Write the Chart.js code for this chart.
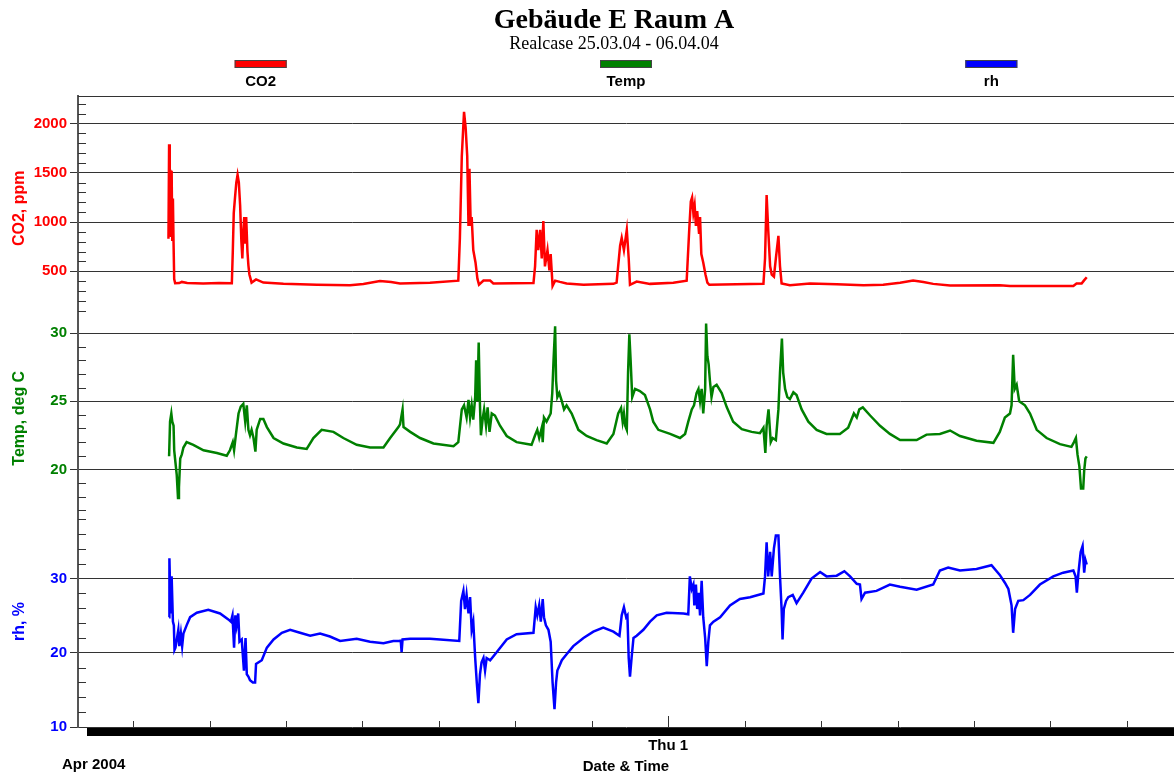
<!DOCTYPE html>
<html>
<head>
<meta charset="utf-8">
<title>Gebäude E Raum A</title>
<script src="https://cdn.jsdelivr.net/npm/chart.js@4.4.1/dist/chart.umd.min.js"></script>
<style>
  html, body { margin: 0; padding: 0; background: #fff; }
  #wrap { width: 1174px; height: 776px; position: relative; }
</style>
</head>
<body>
<div id="wrap"><canvas id="chart"></canvas></div>
<script>
// time axis: hours since 25.03.04 00:00
const co2Hours = [11.1,11.3,11.5,11.7,11.9,12.1,12.3,12.5,12.7,12.9,13.2,14.5,15.3,17.0,22.0,27.0,31.0,
  31.3,31.6,32.0,32.4,32.8,33.2,33.6,34.0,34.3,34.6,34.9,35.2,35.5,35.9,36.2,36.5,37.2,38.6,40.9,47.2,
  57.7,68.1,72.3,77.5,81.0,83.8,
  93.2,102.1,102.6,103.2,103.9,104.4,104.9,105.3,105.6,106.0,106.3,106.8,107.5,108.1,108.6,110.0,112.1,113.1,125.7,126.2,
  126.7,127.2,127.8,128.3,128.8,129.3,130.1,130.7,131.1,131.7,132.5,134.0,136.1,141.4,150.8,151.8,152.9,153.4,154.1,155.0,
  155.6,156.0,158.1,162.3,
  169.6,173.8,174.6,175.1,175.5,175.9,176.3,176.7,177.1,177.7,178.0,178.4,179.0,179.7,180.3,180.9,197.9,198.4,198.9,199.4,
  200.0,200.5,201.2,201.8,202.6,203.1,203.6,206.2,212.5,220.9,229.3,235.5,240.8,
  244.9,248.1,251.2,256.5,272.1,275.3,295.2,296.2,297.8,298.5,299.4];
const co2Ppm = [830,1790,960,1530,860,1520,820,1240,790,420,378,380,392,382,377,380,379,
  700,1090,1250,1400,1480,1400,1170,800,630,900,1050,780,1050,700,560,470,385,417,385,372,
  363,359,370,400,392,376,
  384,405,840,1670,2120,1960,1670,960,1540,960,1050,715,590,425,363,405,405,376,380,550,
  920,715,920,630,1010,550,715,510,675,351,405,392,376,363,372,384,760,840,715,920,
  630,363,396,372,
  384,405,920,1210,1250,1090,1170,960,1110,880,1050,675,590,467,384,363,372,630,1275,920,
  550,467,446,630,860,550,376,359,376,368,359,363,384,
  405,392,372,355,359,351,351,376,376,405,440];

const tempHours = [11.3,11.6,12.0,12.3,12.7,12.9,13.3,13.7,14.1,14.4,14.8,15.3,15.8,16.8,18.9,22.1,26.3,29.4,30.4,31.3,
  31.7,32.3,33.1,33.8,34.6,35.2,35.7,36.2,36.7,37.2,37.8,38.4,38.8,39.9,40.9,42.0,44.1,47.2,51.4,54.5,
  56.6,59.2,62.9,66.0,70.2,74.4,78.6,80.7,83.3,
  83.8,84.6,84.9,87.0,90.1,94.3,100.6,102.1,103.2,103.9,104.7,105.3,105.8,106.3,106.8,107.4,107.7,108.1,108.5,108.9,
  109.2,109.8,110.2,110.8,111.3,111.9,112.6,113.6,115.2,117.3,120.4,125.1,126.2,126.9,127.5,128.3,128.6,129.0,129.8,131.1,
  131.6,132.0,132.5,132.8,133.2,133.8,134.6,135.3,136.1,137.7,139.8,142.4,145.5,148.7,150.8,152.3,153.2,153.7,154.1,154.5,
  155.0,155.4,155.8,156.2,156.7,157.6,159.1,160.7,162.3,
  163.3,164.9,168.6,171.7,173.3,174.3,175.4,176.1,176.9,177.5,178.0,178.5,179.0,179.6,179.9,180.3,180.7,181.1,181.6,182.2,
  183.2,184.8,186.4,188.4,191.1,194.2,196.8,197.9,198.5,198.9,199.5,200.2,200.8,201.8,202.6,203.1,203.7,204.1,204.7,205.4,
  206.2,207.3,208.3,209.9,212.0,214.6,217.7,221.9,224.5,226.3,227.2,228.0,229.1,231.4,234.5,237.6,240.8,
  246.0,249.1,253.3,256.5,259.6,264.8,270.1,272.1,273.7,275.3,275.8,276.3,276.8,277.4,278.2,280.0,281.6,283.7,286.8,291.0,
  294.6,295.4,296.0,296.5,297.1,297.6,298.3,298.6,299.0,299.4];
const tempDegC = [20.96,23.5,24.1,23.5,23.2,21.4,20.5,19.6,17.9,18.7,20.8,21.1,21.6,22.0,21.8,21.4,21.2,21.0,21.4,22.0,
  21.4,22.6,24.1,24.6,24.8,23.5,24.7,22.9,22.5,22.9,22.3,21.3,22.9,23.7,23.7,23.1,22.3,21.9,21.6,21.5,
  22.3,22.9,22.75,22.3,21.8,21.6,21.6,22.3,23.1,
  23.3,24.4,23.1,22.75,22.3,21.9,21.7,22.0,24.4,24.7,23.8,25.1,23.8,24.7,23.65,25.3,28.0,25.0,29.3,24.7,
  22.5,23.8,24.4,23.2,24.55,22.75,24.1,23.95,23.2,22.45,22.0,21.8,22.5,22.9,22.3,23.05,22.0,23.8,23.5,24.1,
  25.6,28.0,30.5,26.5,25.3,25.6,25.0,24.4,24.7,24.1,22.9,22.45,22.15,21.9,22.6,24.1,24.5,23.5,24.1,23.2,
  22.9,27.1,29.9,28.0,25.3,25.9,25.75,25.45,24.4,
  23.5,22.9,22.6,22.3,22.6,23.5,24.4,24.7,25.6,25.9,25.0,25.9,24.1,25.9,30.7,28.3,27.7,26.5,25.3,26.05,
  26.2,25.6,24.55,23.5,22.95,22.75,22.65,23.05,21.2,23.2,24.4,22.0,22.3,22.15,24.4,27.1,29.6,27.1,25.9,25.3,
  25.15,25.65,25.45,24.4,23.5,22.9,22.6,22.6,23.05,24.1,23.8,24.4,24.55,23.95,23.2,22.6,22.15,
  22.15,22.55,22.6,22.85,22.45,22.1,21.95,22.75,23.8,24.1,24.7,28.4,25.9,26.2,25.0,24.7,24.1,22.9,22.3,21.85,
  21.65,22.0,22.3,21.1,20.2,18.6,18.6,19.9,20.8,20.96];

const rhHours = [11.3,11.4,11.8,12.1,12.5,12.8,13.0,13.3,14.2,14.5,15.0,15.4,15.8,16.8,17.9,20.0,23.6,27.3,29.9,30.7,
  31.2,31.7,32.1,32.5,33.0,33.4,34.1,34.8,35.3,35.7,36.2,36.7,37.6,38.3,38.6,39.3,40.4,42.0,44.1,46.7,
  49.3,52.4,55.6,58.7,61.8,65.0,70.2,74.4,78.6,81.7,83.8,
  84.0,84.3,84.6,87.0,93.2,96.4,102.4,103.0,103.7,104.2,104.7,105.3,105.8,106.3,106.8,107.4,107.9,108.4,108.9,109.4,
  110.0,110.5,111.0,112.1,114.2,117.3,120.4,125.7,126.4,126.9,127.5,128.0,128.6,129.0,129.6,130.4,131.1,131.7,132.3,132.8,
  133.2,133.8,134.6,136.1,138.2,141.4,144.5,147.6,150.8,152.7,153.4,154.1,154.8,155.2,155.6,156.0,156.5,157.1,158.1,160.2,
  162.3,
  164.4,167.5,172.8,174.3,174.8,175.4,175.9,176.2,176.7,177.1,177.6,178.0,178.5,179.0,179.6,180.1,180.6,181.1,182.2,184.3,
  187.4,190.5,193.7,197.9,198.4,198.9,199.4,200.0,200.5,201.2,201.8,202.6,203.1,203.6,203.9,204.3,205.0,205.7,207.1,208.3,
  210.4,213.0,215.7,217.7,220.9,223.3,225.1,227.2,228.2,228.7,229.8,233.4,237.6,240.8,
  246.0,251.2,253.3,255.9,259.6,264.8,269.5,272.1,273.7,274.8,275.8,276.3,276.9,277.9,279.5,281.6,284.7,288.9,292.0,295.2,
  295.9,296.3,296.8,297.5,298.1,298.6,299.0,299.4];
const rhPct = [24.8,32.75,25.3,30.3,24.2,23.7,20.4,20.7,23.1,20.9,22.6,20.9,22.6,23.7,24.8,25.4,25.8,25.3,24.5,24.2,
  25.05,20.7,25.05,23.7,25.3,21.5,21.8,17.6,22.0,17.1,16.8,16.3,16.0,16.0,18.5,18.7,19.0,20.7,21.8,22.7,
  23.1,22.7,22.3,22.6,22.2,21.6,21.9,21.5,21.3,21.6,21.6,
  21.8,20.1,21.8,21.9,21.9,21.8,21.6,27.0,28.35,25.9,27.8,25.3,27.5,23.1,24.2,19.3,16.0,13.2,17.1,18.7,
  19.3,17.6,19.3,19.0,20.1,21.8,22.5,22.7,26.15,25.05,26.4,24.2,27.25,24.8,23.7,23.1,21.5,16.0,12.4,16.0,
  17.6,18.2,19.0,19.8,20.9,22.0,22.85,23.4,22.85,22.3,25.05,26.15,24.8,25.05,19.3,16.8,19.3,22.0,22.3,23.1,
  24.2,
  25.05,25.4,25.3,25.2,30.3,28.6,29.2,26.4,29.2,25.9,28.1,25.05,29.7,24.8,22.0,18.2,21.5,23.7,24.2,24.8,
  26.4,27.25,27.5,28.0,30.3,34.9,30.3,33.6,30.3,34.1,35.8,35.8,30.3,25.9,21.8,25.9,27.0,27.5,27.8,26.7,
  28.1,30.0,30.9,30.3,30.4,31.0,30.3,29.3,29.2,27.25,28.1,28.35,29.2,28.9,
  28.5,29.2,31.1,31.5,31.1,31.3,31.8,30.5,29.45,28.6,26.4,22.7,25.9,27.0,27.1,27.8,29.2,30.3,30.8,31.1,
  30.3,28.1,30.8,33.6,34.4,30.8,32.5,31.9];

// day ticks (midnight), only 1 April carries a label
const dayTickHours = [0,24,48,72,96,120,144,168,192,216,240,264,288,312];
const dayTickText = ['','','','','','','','Thu 1','','','','','',''];

const co2Major = [500, 1000, 1500, 2000];
const tempMajor = [20, 25, 30];
const rhMajor = [10, 20, 30];

const RED = '#ff0000', GREEN = '#008000', BLUE = '#0000ff';
const SANS = 'Arial, "Liberation Sans", sans-serif';
const SERIF = '"Times New Roman", "Liberation Serif", serif';

function toPoints(xs, ys) {
  return xs.map((x, i) => ({ x, y: ys[i] }));
}

function yAxis(opts) {
  return {
    type: 'linear',
    position: 'left',
    stack: 'panels',
    stackWeight: opts.weight,
    min: opts.min,
    max: opts.max,
    afterBuildTicks: s => { s.ticks = opts.major.map(v => ({ value: v })); },
    afterFit: s => { s.width = 78; },
    border: { color: '#555', width: 2 },
    grid: { color: '#333', lineWidth: 1, tickLength: 8, drawTicks: true },
    ticks: { color: opts.color, padding: 3, font: { family: SANS, size: 15, weight: 'bold' },
             callback: v => String(v) },
    title: { display: true, text: opts.title, color: opts.color, padding: { top: 10, bottom: 0 },
             font: { family: SANS, size: 16, weight: 'bold' } }
  };
}

// minor ticks, day marks, axis bar, legend and headings
const decor = {
  id: 'decor',
  afterDraw(chart) {
    const { ctx, chartArea: a, scales } = chart;
    ctx.save();
    ctx.strokeStyle = '#333';
    ctx.lineWidth = 1;
    const seg = (x1, y1, x2, y2) => { ctx.beginPath(); ctx.moveTo(x1, y1); ctx.lineTo(x2, y2); ctx.stroke(); };

    seg(a.left, a.top + 0.5, a.right, a.top + 0.5);

    [['yCo2', 100, co2Major], ['yTemp', 1, tempMajor], ['yRh', 2, rhMajor]].forEach(([id, step, major]) => {
      const s = scales[id];
      for (let v = Math.ceil(s.min / step) * step; v < s.max; v += step) {
        if (major.includes(v) || v === s.min) continue;
        const y = Math.round(s.getPixelForValue(v)) + 0.5;
        seg(a.left, y, a.left + 8, y);
      }
    });

    const xs = scales.x;
    dayTickHours.forEach((h, i) => {
      const x = Math.round(xs.getPixelForValue(h)) + 0.5;
      seg(x, a.bottom - (dayTickText[i] ? 11 : 6), x, a.bottom);
    });

    ctx.fillStyle = '#000';
    ctx.fillRect(a.left + 9, a.bottom + 1, a.right - a.left - 9, 8);

    ctx.font = 'bold 15px ' + SANS;
    ctx.textBaseline = 'middle';
    ctx.textAlign = 'left';
    ctx.fillText('Apr 2004', 62, 765);

    // legend: one entry centred in each third of the plot width
    const w = a.right - a.left;
    ctx.textAlign = 'center';
    chart.data.datasets.forEach((ds, i) => {
      const cx = a.left + w * (2 * i + 1) / 6;
      ctx.fillStyle = ds.borderColor;
      ctx.fillRect(cx - 26, 60, 52, 8);
      ctx.strokeStyle = '#444';
      ctx.strokeRect(cx - 25.5, 60.5, 51, 7);
      ctx.fillStyle = '#000';
      ctx.fillText(ds.label, cx, 82);
    });

    const tx = a.left + w / 2 - 12;
    ctx.font = 'bold 28px ' + SERIF;
    ctx.fillText('Gebäude E Raum A', tx, 21);
    ctx.font = '18px ' + SERIF;
    ctx.fillText('Realcase 25.03.04 - 06.04.04', tx, 44);
    ctx.restore();
  }
};

new Chart(document.getElementById('chart'), {
  type: 'line',
  data: {
    datasets: [
      { label: 'CO2', data: toPoints(co2Hours, co2Ppm), yAxisID: 'yCo2', borderColor: RED },
      { label: 'Temp', data: toPoints(tempHours, tempDegC), yAxisID: 'yTemp', borderColor: GREEN },
      { label: 'rh', data: toPoints(rhHours, rhPct), yAxisID: 'yRh', borderColor: BLUE }
    ]
  },
  options: {
    responsive: true,
    maintainAspectRatio: false,
    animation: false,
    layout: { padding: { top: 96, right: 0, bottom: 0, left: 0 } },
    elements: {
      line: { borderWidth: 2.5, tension: 0, fill: false },
      point: { radius: 0 }
    },
    plugins: { legend: { display: false }, title: { display: false }, tooltip: { enabled: false } },
    scales: {
      x: {
        type: 'linear',
        min: -17.3,
        max: 326.8,
        afterBuildTicks: s => { s.ticks = dayTickHours.map(v => ({ value: v })); },
        afterFit: s => { s.height = 49; },
        border: { display: false },
        grid: { display: false, drawTicks: false },
        ticks: {
          autoSkip: false, maxRotation: 0, padding: 10, color: '#000',
          font: { family: SANS, size: 15, weight: 'bold' },
          callback: v => dayTickText[dayTickHours.indexOf(v)] || ''
        },
        title: { display: true, text: 'Date & Time', color: '#000', padding: { top: 2, bottom: 0 },
                 font: { family: SANS, size: 15, weight: 'bold' } }
      },
      // declared bottom-up: the last left-hand axis in a stack sits on top
      yRh: yAxis({ weight: 211, min: 10, max: 38.44, major: rhMajor, color: BLUE, title: 'rh, %' }),
      yTemp: yAxis({ weight: 195.5, min: 16.58, max: 30.92, major: tempMajor, color: GREEN, title: 'Temp, deg C' }),
      yCo2: yAxis({ weight: 224.5, min: 0, max: 2280, major: co2Major, color: RED, title: 'CO2, ppm' })
    }
  },
  plugins: [decor]
});
</script>
</body>
</html>
